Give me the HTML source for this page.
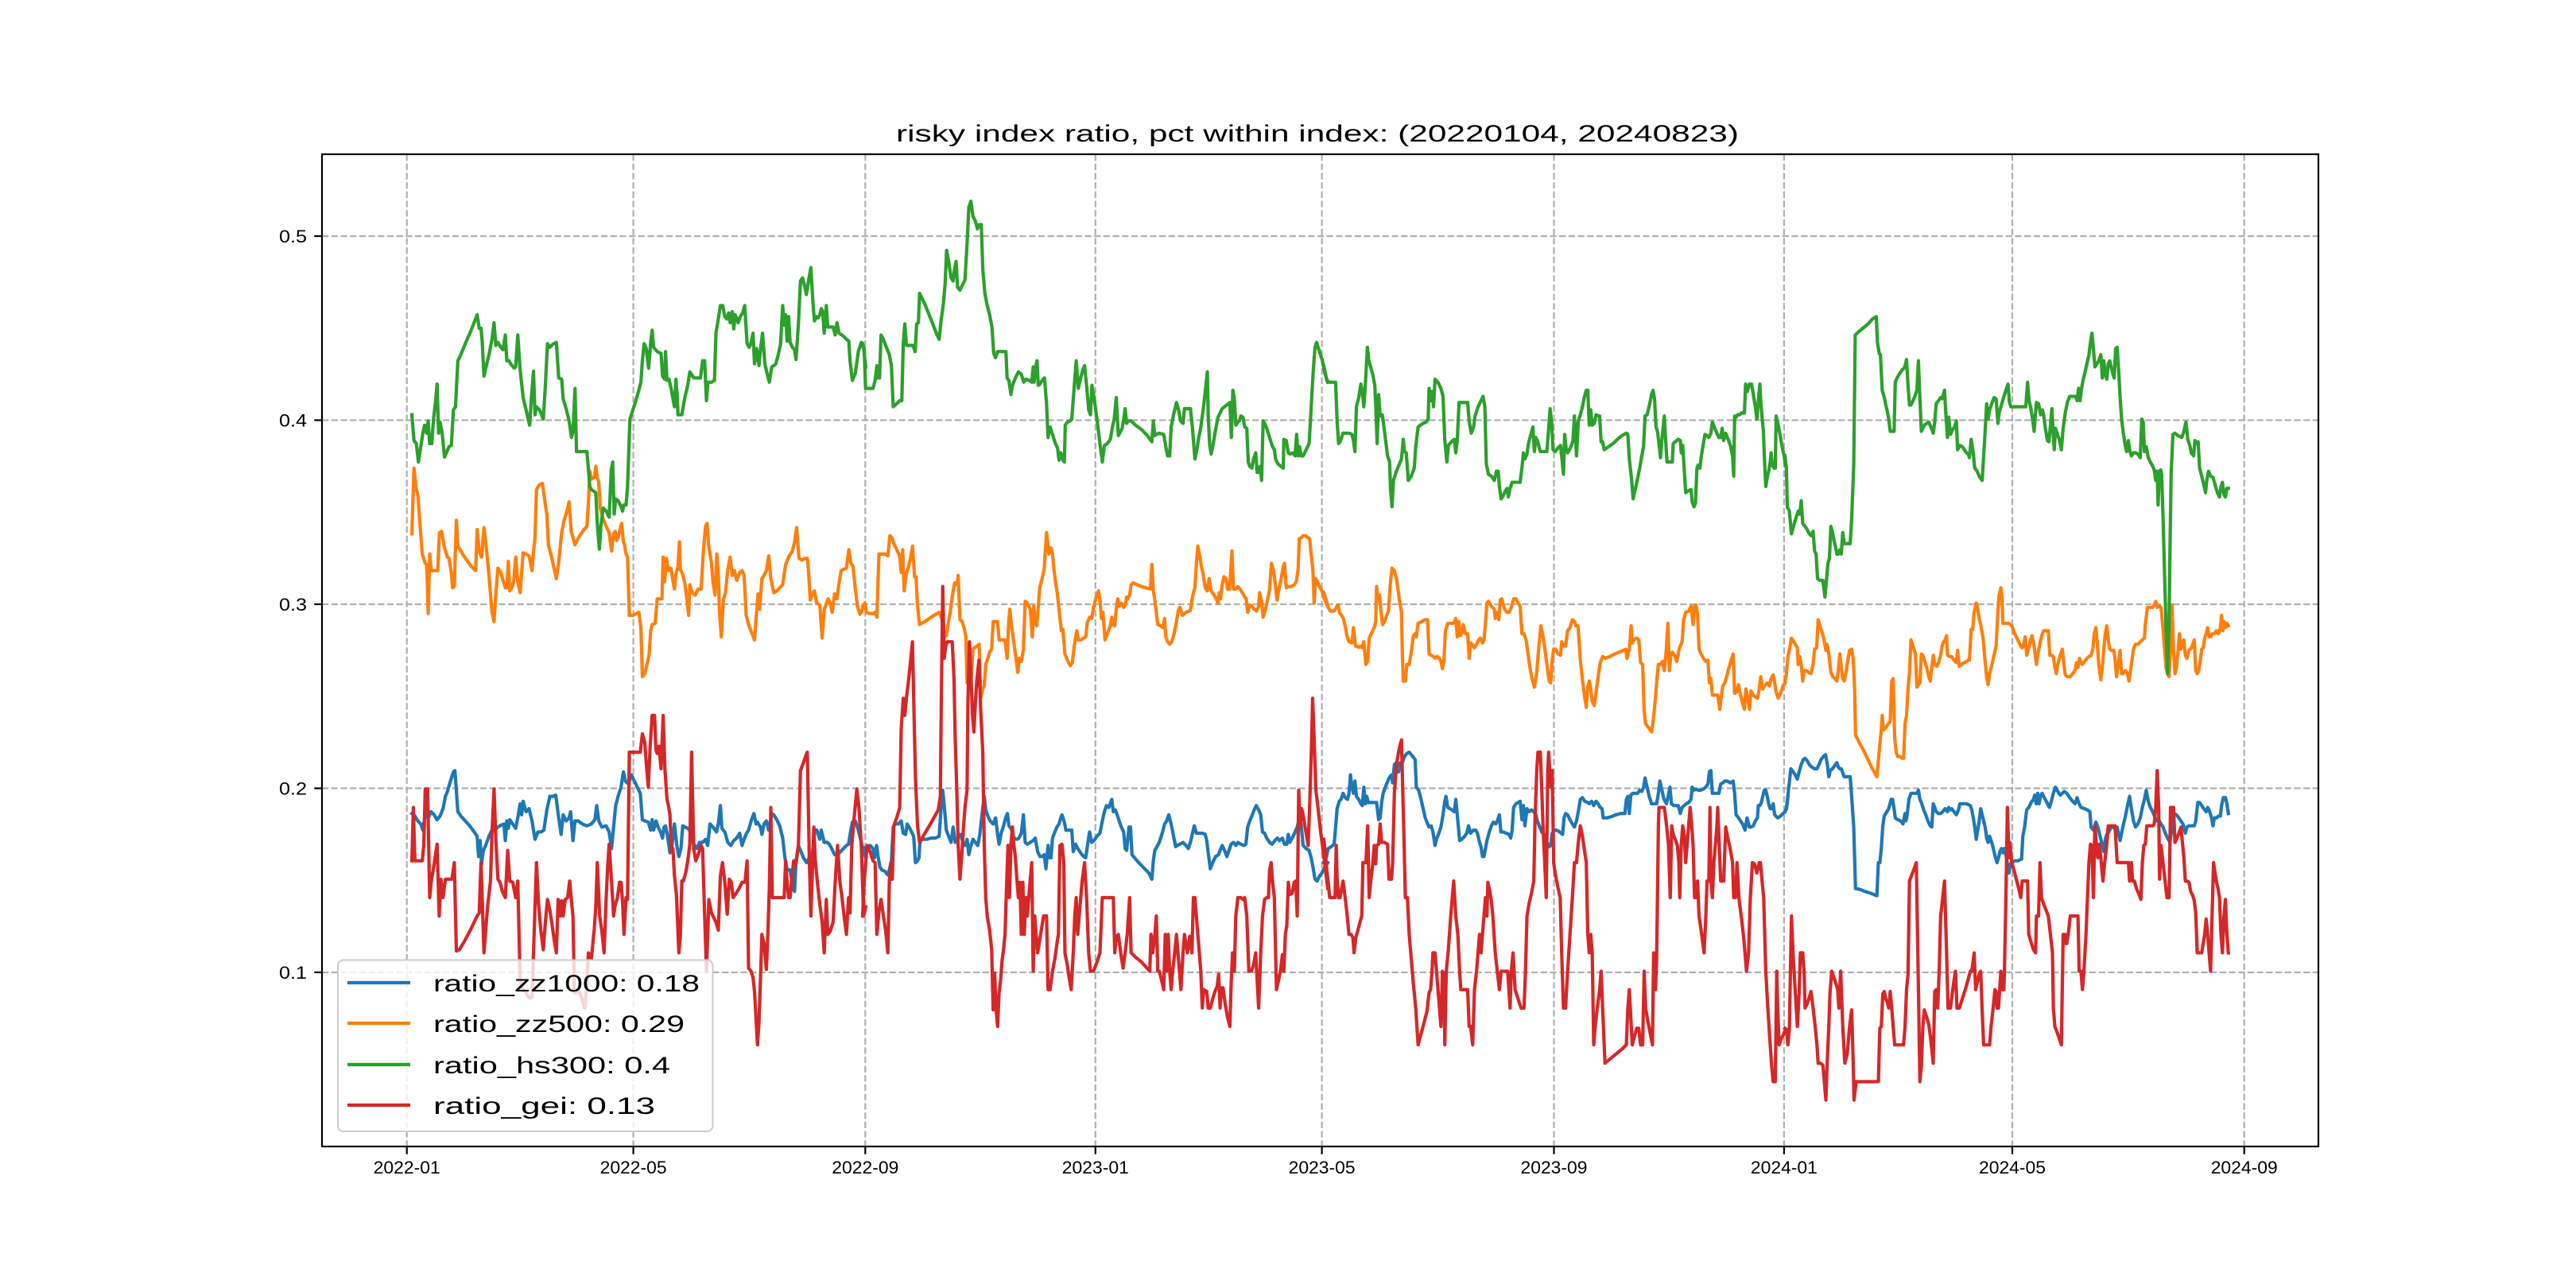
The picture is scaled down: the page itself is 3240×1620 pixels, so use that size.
<!DOCTYPE html>
<html>
<head>
<meta charset="utf-8">
<style>
html,body{margin:0;padding:0;background:#fff;}
svg{display:block;}
text{font-family:"Liberation Sans","WenQuanYi Zen Hei",sans-serif;fill:#000;}
.d{fill:none;stroke-width:4.2;stroke-linejoin:round;stroke-linecap:square;}
.b{stroke:#1f77b4;}.o{stroke:#ff7f0e;}.g{stroke:#2ca02c;}.r{stroke:#d62728;}
</style>
</head>
<body>
<svg width="3240" height="1620" viewBox="0 0 3240 1620" xmlns="http://www.w3.org/2000/svg">
<rect x="0" y="0" width="3240" height="1620" fill="#fff"/>
<text x="1657" y="178" font-size="30" text-anchor="middle" textLength="1060" lengthAdjust="spacingAndGlyphs">risky index ratio, pct within index: (20220104, 20240823)</text>

<!-- grid -->
<g stroke="#b0b0b0" stroke-width="2.2" stroke-dasharray="8.2 3.5" fill="none">
<line x1="405" y1="297" x2="2916" y2="297"/>
<line x1="405" y1="528.5" x2="2916" y2="528.5"/>
<line x1="405" y1="760" x2="2916" y2="760"/>
<line x1="405" y1="991.5" x2="2916" y2="991.5"/>
<line x1="405" y1="1223" x2="2916" y2="1223"/>
<line x1="511.7" y1="194" x2="511.7" y2="1442"/>
<line x1="796.6" y1="194" x2="796.6" y2="1442"/>
<line x1="1088.3" y1="194" x2="1088.3" y2="1442"/>
<line x1="1377.8" y1="194" x2="1377.8" y2="1442"/>
<line x1="1662.6" y1="194" x2="1662.6" y2="1442"/>
<line x1="1954.5" y1="194" x2="1954.5" y2="1442"/>
<line x1="2243.9" y1="194" x2="2243.9" y2="1442"/>
<line x1="2531" y1="194" x2="2531" y2="1442"/>
<line x1="2822.7" y1="194" x2="2822.7" y2="1442"/>
</g>

<!-- BLUE zz1000 -->
<polyline class="d b" vector-effect="non-scaling-stroke" transform="translate(505,230) scale(0.37310,0.77166)" points="35,1028 45,1032 55,1040 65,1045 72,1055 80,1030 90,1035 100,1025 110,1030 120,1038 130,1032 140,1020 148,1000 155,992 165,975 175,960 180,958 190,1025 200,1032 215,1040 230,1048 245,1058 255,1065 260,1098 265,1072 270,1110 275,1090 285,1078 295,1065 305,1055 315,1055 325,1050 335,1047 345,1045 350,1072 355,1040 360,1052 365,1038 375,1045 385,1052 392,1035 400,1012 405,1030 410,1008 420,1025 430,1020 440,1040 450,1070 460,1058 470,1058 480,1055 490,1022 500,1000 510,1000 520,998 530,1035 538,1062 545,1030 555,1040 565,1035 570,1025 578,1072 585,1040 595,1040 610,1045 625,1048 640,1045 652,1038 658,1015 665,1040 675,1050 690,1048 700,1058 708,1085 715,1050 722,1015 730,1000 740,985 748,960 755,975 765,980 775,965 790,980 805,995 812,1038 820,1040 832,1042 840,1055 845,1038 850,1055 858,1040 865,1050 875,1060 880,1068 885,1050 890,1048 897,1065 905,1092 912,1080 920,1045 928,1080 935,1098 942,1085 948,1048 955,1050 965,1052 975,1058 985,1078 995,1085 1005,1075 1015,1075 1025,1070 1032,1080 1040,1045 1050,1050 1062,1058 1068,1045 1075,1015 1080,1052 1090,1058 1100,1075 1110,1080 1120,1072 1130,1068 1140,1060 1148,1080 1155,1070 1163,1060 1170,1055 1180,1038 1188,1028 1195,1045 1200,1042 1210,1050 1215,1062 1222,1045 1230,1040 1238,1055 1248,1028 1255,1030 1265,1038 1275,1048 1285,1068 1292,1098 1300,1120 1310,1120 1320,1150 1325,1155 1330,1105 1338,1080 1345,1088 1355,1100 1365,1108 1375,1100 1385,1095 1393,1055 1400,1055 1410,1070 1415,1055 1425,1075 1435,1075 1442,1078 1450,1085 1460,1095 1470,1095 1480,1090 1490,1085 1500,1080 1507,1078 1513,1060 1520,1042 1530,1040 1540,1055 1550,1075 1558,1090 1565,1100"/>
<polyline class="d b" vector-effect="non-scaling-stroke" transform="translate(1085,230) scale(0.37310,0.77166)" points="0,1090 5,1085 15,1082 25,1080 35,1085 40,1100 47,1080 52,1098 58,1115 65,1120 75,1122 85,1128 90,1120 97,1105 103,1050 110,1045 120,1045 130,1040 137,1060 145,1062 150,1045 157,1050 165,1058 172,1065 178,1108 185,1105 190,1100 193,1075 200,1070 215,1070 230,1068 245,1068 258,1065 265,1015 270,990 275,1015 282,1055 290,1065 298,1075 305,1050 312,1075 318,1072 325,1065 330,1062 338,1075 345,1080 352,1070 358,1095 365,1080 372,1070 380,1075 388,1080 395,1062 400,1040 405,1020 410,1000 415,1022 422,1032 430,1040 440,1045 448,1035 455,1062 460,1078 467,1060 475,1048 482,1035 488,1028 493,1048 500,1052 510,1068 520,1070 527,1068 535,1060 542,1030 548,1075 555,1078 565,1075 575,1072 582,1068 590,1090 598,1098 605,1098 612,1095 618,1118 625,1080 630,1100 635,1100 640,1068 648,1058 655,1050 662,1045 668,1035 672,1030 680,1042 685,1055 695,1055 705,1055 710,1090 718,1078 725,1085 735,1092 745,1098 752,1100 758,1080 765,1058 772,1075 780,1072 790,1065 800,1060 808,1040 815,1025 822,1015 830,1018 840,1005 845,1025 852,1022 858,1030 865,1040 872,1050 880,1058 885,1085 890,1088 898,1050 903,1050 908,1095 925,1105 945,1115 965,1125 975,1135 980,1105 985,1088 992,1082 1000,1075 1010,1060 1018,1045 1025,1040 1032,1030 1040,1045 1047,1062 1055,1082 1060,1080 1070,1078 1080,1075 1090,1080 1098,1085 1105,1075 1112,1060 1118,1048 1125,1060 1135,1060 1145,1060 1155,1062 1160,1072 1165,1092 1172,1118 1180,1108 1190,1098 1200,1095 1205,1088 1212,1080 1220,1088 1228,1098 1235,1088 1242,1078 1250,1075 1258,1080 1265,1075 1275,1078 1285,1080 1292,1078 1298,1050 1305,1040 1312,1032 1320,1022 1327,1015 1335,1022 1342,1030 1348,1058 1355,1060 1362,1068 1372,1075 1380,1078 1390,1072 1398,1068 1405,1072 1415,1068 1422,1078 1430,1078 1435,1062 1440,1075 1448,1068 1458,1058 1465,1050 1470,1040 1478,1045 1485,1080 1495,1085 1505,1088 1512,1100 1518,1115 1525,1135 1532,1138 1540,1130 1548,1125 1558,1115 1568,1108"/>
<polyline class="d b" vector-effect="non-scaling-stroke" transform="translate(1665,230) scale(0.37310,0.77166)" points="0,1108 8,1100 15,1085 25,1082 35,1078 40,1050 45,1020 52,1008 58,1005 65,995 72,1002 80,1005 85,995 90,965 95,985 100,995 105,975 110,1000 118,1005 125,1012 130,1015 135,985 140,1012 145,1000 150,1010 160,1010 170,1010 178,1010 185,1038 190,1035 195,1010 200,995 210,982 220,970 228,965 232,978 238,948 245,945 252,960 258,945 265,945 272,935 280,930 288,928 295,932 300,935 308,940 312,985 320,990 328,1005 335,1020 342,1035 350,1045 355,1050 362,1048 368,1058 375,1080 380,1070 388,1060 395,1050 402,1030 408,1008 412,1000 418,1018 425,1020 432,1022 440,1025 445,1005 452,1040 458,1072 465,1070 475,1065 482,1060 488,1048 495,1060 505,1055 512,1055 518,1060 525,1075 530,1082 535,1098 540,1098 545,1085 550,1072 558,1058 565,1048 572,1042 580,1045 585,1040 592,1030 597,1058 605,1058 615,1060 625,1062 630,1068 635,1055 640,1018 648,1012 655,1010 662,1008 668,1038 673,1015 678,1048 685,1020 692,1025 700,1022 708,1025 715,1030 720,1040 728,1050 735,1058 742,1062 748,1070 755,1078 760,1082 765,1080 770,1060 778,1055 785,1055 795,1058 800,1060 805,1062 810,1035 815,1028 822,1030 830,1038 838,1045 845,1050 852,1040 858,1025 865,1005 872,1002 880,1008 890,1010 895,1012 903,1008 910,1015 918,1008 925,1012 932,1018 938,1020 942,1035 955,1035 970,1033 985,1030 1000,1028 1015,1028 1020,1005 1025,1000 1030,1028 1035,998 1042,995 1050,995 1058,995 1065,990 1072,992 1078,985 1083,970 1090,985 1097,1000 1105,1012 1115,1012 1122,1012 1128,995 1133,975 1140,990 1147,1005 1155,1012 1160,1002 1167,985 1172,1012 1180,1015 1188,1015 1195,1015 1202,1028 1208,1018 1215,1015 1222,1012 1230,1010 1238,1005 1242,985 1248,990 1255,988 1262,990 1270,990 1280,988 1288,985 1295,980 1300,960 1305,958 1310,995 1318,995 1325,995 1332,995 1338,980 1345,978 1352,975 1360,975 1370,978 1380,975 1385,995 1390,1030 1398,1035 1405,1040 1412,1045 1420,1055 1427,1035 1435,1050 1440,1050 1448,1048 1455,1040 1462,1035 1465,1015 1470,1015 1475,1010 1480,1000 1485,990 1490,990 1495,1000 1500,1012 1505,1020 1510,1020 1515,1012 1520,1030 1530,1035 1540,1032 1548,1028 1555,1025 1560,1020 1565,1000"/>
<polyline class="d b" vector-effect="non-scaling-stroke" transform="translate(2245,230) scale(0.37310,0.77166)" points="0,1025 5,1020 12,990 20,955 28,960 35,965 42,972 48,960 55,948 62,940 68,938 75,942 82,948 90,952 100,955 108,955 115,948 122,940 130,935 137,932 143,948 148,968 153,958 160,955 168,950 175,945 180,952 185,955 190,955 195,962 200,968 210,968 220,968 225,1000 232,1050 238,1150 255,1152 270,1155 290,1158 310,1162 315,1108 320,1108 325,1085 330,1048 335,1032 340,1028 350,1020 358,1005 363,1005 368,1020 372,1035 380,1038 390,1040 398,1045 402,1035 405,1028 408,1040 412,1030 418,1005 425,995 435,995 445,995 450,990 455,1005 460,1010 468,1022 475,1030 482,1040 490,1048 495,1050 500,1012 505,1018 510,1025 518,1028 525,1028 532,1025 540,1020 548,1025 552,1018 558,1022 562,1020 570,1025 578,1030 585,1022 590,1012 600,1012 612,1012 625,1015 630,1022 635,1035 640,1050 645,1070 650,1055 655,1040 660,1020 665,1030 670,1040 675,1050 680,1068 685,1075 690,1065 695,1072 700,1080 705,1090 710,1100 715,1108 720,1100 725,1090 730,1085 735,1092 740,1085 745,1095 750,1110 755,1125 760,1110 765,1108 775,1105 785,1105 798,1102 802,1065 808,1050 815,1022 822,1018 830,1010 838,1005 842,998 847,1012 852,995 857,1012 862,998 867,995 872,1000 878,1005 885,1012 892,1018 898,1008 905,995 912,985 920,992 928,998 935,995 942,992 950,995 960,1002 970,1008 978,1012 985,1002 990,1010 998,1018 1010,1020 1020,1022 1028,1025 1032,1050 1040,1055 1048,1042 1055,1050 1060,1060 1065,1070 1070,1080 1075,1090 1080,1070 1085,1062 1092,1058 1100,1050 1108,1050 1115,1055 1120,1050 1125,1062 1130,1072 1135,1060 1140,1048 1148,1032 1155,1015 1162,1000 1168,1020 1175,1040 1182,1050 1190,1045 1198,1035 1205,1018 1212,1005 1218,990 1225,1008 1232,1018 1240,1025 1248,1035 1255,1040 1262,1040 1268,1045 1275,1050 1282,1060 1290,1068 1298,1075 1305,1050 1312,1028 1320,1030 1328,1035 1335,1040 1342,1045 1350,1060 1355,1050 1362,1048 1370,1048 1380,1048 1385,1040 1392,1010 1398,1010 1405,1015 1412,1020 1420,1025 1425,1018 1432,1025 1438,1035 1443,1048 1448,1035 1455,1035 1462,1032 1468,1032 1472,1015 1478,1002 1485,1002 1490,1012 1495,1028"/>

<!-- ORANGE zz500 -->
<polyline class="d o" vector-effect="non-scaling-stroke" transform="translate(505,230) scale(0.37310,0.77166)" points="35,572 42,465 50,500 55,508 62,555 70,605 80,620 85,622 90,702 95,605 100,632 110,632 122,632 128,570 135,568 145,595 155,610 160,612 168,635 172,660 178,658 185,550 190,592 200,600 210,608 220,615 235,625 250,632 255,565 262,600 270,610 278,562 285,590 295,640 305,700 312,715 318,670 325,628 335,635 342,648 350,660 355,660 360,617 365,665 372,660 378,650 385,610 392,650 400,668 410,603 420,605 430,608 440,632 445,600 450,580 455,500 465,492 475,490 485,525 490,540 495,590 505,608 515,630 522,645 530,618 540,570 548,550 555,540 565,520 572,568 580,582 585,590 595,580 605,572 615,565 625,560 630,522 635,470 640,483 650,480 655,462 660,480 665,488 670,530 680,548 690,560 700,570 708,600 715,572 720,568 725,583 730,578 735,568 742,555 748,585 752,590 757,605 762,610 768,705 780,705 800,700 807,725 812,805 820,800 830,780 835,768 840,730 845,720 855,718 862,678 870,678 878,678 882,610 887,650 893,612 900,632 908,628 915,648 920,662 925,638 932,625 937,585 940,630 948,638 955,652 962,678 968,705 972,655 980,668 990,672 1000,662 1010,662 1018,598 1025,560 1030,555 1035,590 1045,620 1050,650 1057,672 1063,605 1068,638 1072,700 1078,740 1085,680 1092,668 1100,630 1108,610 1115,640 1122,632 1130,648 1140,635 1148,632 1155,640 1162,705 1170,720 1182,735 1190,745 1197,700 1202,670 1207,695 1215,645 1222,640 1230,632 1238,608 1245,645 1255,668 1265,665 1275,660 1285,655 1295,622 1305,610 1318,600 1325,585 1332,562 1340,612 1350,615 1360,612 1368,612 1372,632 1378,680 1385,670 1392,665 1400,685 1410,688 1418,742 1425,695 1430,690 1438,678 1445,685 1452,700 1460,670 1468,678 1475,652 1482,632 1490,630 1500,628 1508,598 1515,620 1522,625 1530,662 1537,690 1545,703 1550,700 1558,688 1565,695"/>
<polyline class="d o" vector-effect="non-scaling-stroke" transform="translate(1085,230) scale(0.37310,0.77166)" points="0,690 8,685 12,700 25,702 35,702 42,700 48,708 55,605 65,605 75,605 85,608 92,575 100,580 105,588 115,598 125,608 130,635 135,598 140,665 147,638 155,625 162,610 168,592 175,642 180,642 185,690 192,720 210,715 225,710 240,705 258,700 268,712 275,740 282,738 288,720 295,700 302,675 310,652 318,655 322,640 328,712 335,715 342,725 348,740 352,815 358,775 365,815 372,760 385,755 393,752 398,840 405,825 410,820 415,785 420,778 428,765 435,760 440,715 448,715 455,715 460,745 470,745 480,745 487,775 492,720 496,695 502,722 510,750 517,775 523,798 528,775 535,780 542,760 548,682 555,685 565,695 572,740 577,690 582,718 587,722 592,692 597,660 605,645 612,630 620,570 628,605 635,595 640,605 645,630 650,650 656,668 663,700 670,730 675,728 682,768 692,780 700,787 707,782 712,760 718,740 722,730 727,745 735,745 745,742 752,740 757,718 765,708 772,710 780,688 788,675 795,665 800,680 805,710 810,700 817,745 825,735 835,722 840,708 845,720 850,722 855,695 860,678 865,690 872,685 880,692 885,688 890,675 895,678 900,672 905,655 912,652 925,655 940,658 955,660 970,662 975,622 980,665 985,680 990,700 995,720 1005,722 1012,725 1018,710 1022,740 1028,748 1035,752 1042,748 1050,735 1058,715 1065,695 1070,692 1078,705 1090,700 1100,698 1105,697 1110,680 1115,668 1120,660 1125,622 1130,592 1137,610 1142,625 1148,638 1155,660 1162,665 1168,645 1175,665 1185,672 1192,678 1198,685 1202,668 1207,678 1212,655 1218,642 1225,645 1230,662 1237,662 1245,600 1250,662 1258,662 1265,658 1272,662 1280,668 1288,675 1293,678 1298,700 1305,688 1312,690 1320,695 1328,698 1335,690 1338,668 1345,682 1350,708 1358,695 1365,680 1372,662 1378,620 1385,632 1390,650 1397,680 1402,665 1410,648 1418,625 1422,620 1428,660 1435,658 1445,658 1455,655 1462,650 1468,630 1472,580 1480,578 1485,575 1492,575 1500,578 1507,580 1512,605 1518,632 1522,685 1527,645 1533,650 1540,658 1548,665 1558,680 1568,690"/>
<polyline class="d o" vector-effect="non-scaling-stroke" transform="translate(1665,230) scale(0.37310,0.77166)" points="0,668 8,680 15,692 22,698 35,698 42,692 48,688 53,700 60,705 66,710 72,722 78,738 85,748 95,750 100,725 107,755 112,755 118,757 125,755 130,758 135,748 142,785 148,780 153,742 160,735 167,728 172,722 175,715 178,658 183,682 188,672 193,700 198,720 205,715 212,705 218,698 225,650 230,628 238,632 245,645 250,662 255,680 262,700 265,770 268,812 275,812 280,785 288,785 295,765 302,738 308,735 312,740 318,718 330,715 340,712 350,712 355,768 362,770 370,772 375,775 382,772 390,775 395,780 400,792 405,780 410,730 418,718 425,718 435,718 442,715 445,710 450,740 455,715 460,738 465,735 470,720 478,735 485,735 490,775 495,750 500,752 508,758 515,752 522,745 528,742 535,750 540,745 545,718 550,685 555,682 565,690 575,695 578,710 585,700 590,712 595,680 600,678 605,688 610,695 617,700 625,700 632,692 640,678 648,678 655,685 662,690 668,735 675,735 682,745 688,765 695,790 702,808 710,822 718,798 725,755 732,722 740,742 748,770 755,795 760,812 765,815 770,778 775,760 782,760 790,768 798,770 802,748 808,755 815,755 822,730 830,725 838,712 845,715 850,722 857,722 865,778 872,810 880,840 885,855 890,822 895,812 900,825 905,845 912,852 918,830 925,805 932,782 940,772 950,775 965,772 980,768 995,765 1010,762 1018,760 1022,775 1030,760 1036,722 1040,750 1045,745 1055,742 1062,745 1068,782 1075,785 1080,860 1085,882 1095,888 1105,895 1110,880 1118,840 1122,815 1128,785 1135,785 1142,780 1148,795 1155,760 1160,718 1165,795 1170,770 1175,765 1182,770 1190,780 1198,760 1202,755 1208,748 1213,712 1220,700 1230,698 1238,690 1245,720 1250,690 1255,688 1260,702 1265,760 1272,768 1280,775 1288,780 1295,778 1300,815 1305,808 1310,835 1318,835 1328,835 1335,858 1340,838 1345,820 1352,815 1358,805 1365,792 1372,780 1380,768 1385,832 1392,830 1398,818 1405,835 1412,848 1418,858 1423,825 1428,838 1435,858 1440,828 1448,835 1455,838 1462,840 1468,825 1473,805 1480,825 1485,820 1490,818 1495,815 1502,820 1508,808 1515,802 1520,815 1525,830 1532,840 1540,832 1548,820 1555,815"/>
<polyline class="d o" vector-effect="non-scaling-stroke" transform="translate(2245,230) scale(0.37310,0.77166)" points="0,815 5,800 10,772 15,762 22,742 30,748 38,755 42,758 45,785 50,772 55,785 60,812 65,795 72,795 80,798 88,800 95,785 100,760 107,758 112,712 118,722 125,732 132,745 138,762 142,752 148,768 155,798 162,805 168,808 175,812 180,795 185,768 190,790 195,808 200,812 207,795 212,778 218,762 225,760 230,775 235,822 238,900 250,912 265,925 280,940 295,955 310,968 315,942 320,915 325,892 328,868 332,892 340,888 348,882 355,878 360,812 365,808 370,905 375,928 380,935 388,935 395,938 400,938 405,882 410,868 415,825 420,798 425,745 432,755 440,768 445,822 450,818 455,815 460,768 465,770 470,778 478,790 485,805 490,812 495,790 500,770 505,785 512,788 518,782 525,770 530,755 535,748 540,745 545,738 548,770 555,772 562,772 570,778 578,782 582,762 588,788 595,785 605,782 612,780 618,778 622,778 628,728 633,728 638,700 645,685 650,695 655,710 660,720 668,742 675,780 680,805 685,818 690,800 698,785 705,770 712,755 718,700 722,672 728,660 732,678 735,718 745,718 755,718 765,722 772,732 780,740 788,748 795,755 800,758 805,752 810,740 815,770 822,758 828,745 833,738 840,755 848,785 852,770 858,755 862,745 868,735 872,730 880,730 888,730 893,770 900,770 905,772 910,790 915,800 920,785 927,772 935,760 940,782 945,802 952,805 962,805 970,800 978,795 983,782 988,790 993,775 998,782 1003,785 1010,780 1018,775 1025,772 1032,770 1038,760 1043,735 1048,725 1053,750 1058,785 1065,810 1070,790 1075,760 1080,735 1085,722 1090,745 1095,760 1100,762 1108,762 1112,772 1118,805 1125,780 1130,762 1135,800 1140,800 1148,795 1155,800 1160,812 1165,795 1170,778 1175,760 1182,752 1190,752 1198,748 1205,745 1212,742 1215,720 1222,692 1230,692 1240,692 1245,688 1250,682 1255,692 1262,690 1268,692 1275,730 1280,760 1285,790 1290,800 1295,805 1300,760 1305,688 1310,760 1315,800 1320,790 1325,765 1330,735 1335,760 1340,752 1345,745 1350,770 1355,775 1362,762 1370,758 1375,752 1380,745 1385,795 1390,800 1395,795 1400,780 1405,760 1410,758 1415,742 1420,735 1425,725 1430,740 1435,740 1440,735 1448,735 1455,730 1462,735 1468,725 1472,705 1476,730 1480,715 1485,725 1490,718 1495,722"/>

<!-- GREEN hs300 -->
<polyline class="d g" vector-effect="non-scaling-stroke" transform="translate(505,230) scale(0.37310,0.77166)" points="35,378 42,420 50,425 57,455 65,430 72,408 78,395 85,408 90,388 95,425 102,425 108,385 115,355 120,328 125,408 130,390 137,408 145,447 160,430 168,428 175,370 182,365 190,290 200,280 215,262 235,240 255,215 262,237 268,237 272,258 278,315 285,300 295,280 305,255 312,228 318,265 325,260 335,268 342,272 350,248 355,290 362,290 368,295 380,302 385,300 392,248 400,305 410,350 420,370 432,395 438,350 445,307 450,378 455,365 465,370 478,385 485,330 492,262 500,268 510,263 522,260 530,318 540,320 545,352 555,368 565,388 573,415 578,405 585,335 590,438 610,438 625,438 635,495 640,500 655,505 660,555 667,597 672,560 680,530 690,535 700,545 707,468 712,455 717,540 722,515 730,518 740,527 745,535 750,525 757,525 762,495 770,385 790,355 800,338 807,325 812,290 818,262 825,270 833,302 840,260 845,240 850,268 862,275 875,278 880,315 887,320 890,275 895,322 902,320 910,338 920,365 925,320 930,350 932,378 945,378 955,350 965,330 972,308 985,318 1000,318 1008,318 1015,290 1022,290 1028,355 1033,325 1045,325 1055,322 1060,245 1068,222 1075,200 1083,200 1090,218 1097,222 1103,212 1108,228 1115,210 1120,238 1125,215 1135,228 1142,218 1150,212 1157,200 1165,262 1172,268 1178,262 1185,245 1190,295 1197,270 1205,298 1210,272 1217,245 1225,295 1232,310 1240,325 1248,300 1255,298 1262,295 1270,280 1278,262 1285,200 1290,232 1295,215 1300,258 1305,218 1310,260 1318,268 1325,272 1330,288 1338,230 1345,160 1352,155 1360,170 1365,182 1372,160 1380,138 1387,195 1392,225 1400,218 1405,220 1410,215 1415,205 1420,210 1425,245 1432,200 1437,235 1445,235 1455,235 1462,248 1468,228 1475,245 1490,250 1500,255 1508,258 1512,290 1520,322 1530,310 1540,275 1550,260 1558,270 1565,300"/>
<polyline class="d g" vector-effect="non-scaling-stroke" transform="translate(1085,230) scale(0.37310,0.77166)" points="0,262 5,270 10,335 20,335 35,335 42,322 48,298 52,318 57,318 62,248 70,255 80,268 90,280 97,298 103,365 115,360 125,355 132,355 137,262 142,230 148,265 160,265 170,265 177,275 182,230 188,228 192,180 210,198 230,222 250,247 258,255 265,222 272,198 278,165 283,110 290,128 298,155 305,160 310,140 315,128 320,170 328,175 335,168 345,158 352,100 358,40 365,30 372,55 380,62 387,75 393,68 400,68 405,140 412,180 420,200 428,215 436,235 442,278 448,285 455,275 470,275 483,275 487,318 493,322 500,345 505,330 515,318 525,308 535,312 543,325 550,320 562,322 570,325 575,300 578,325 583,300 588,290 592,330 598,328 605,322 613,318 620,360 625,415 632,398 640,410 650,425 657,432 662,452 668,440 675,452 680,455 683,395 690,390 700,388 705,385 712,340 720,290 727,335 735,318 742,305 748,298 755,330 762,370 768,378 773,330 780,350 790,385 800,425 808,455 815,428 825,425 835,418 842,398 848,385 855,350 862,412 875,400 880,385 885,368 890,392 895,388 905,388 920,395 940,402 960,412 975,422 980,388 985,412 990,410 1000,408 1015,410 1022,430 1028,445 1035,445 1040,398 1048,378 1058,358 1065,370 1072,388 1080,392 1085,368 1095,368 1105,368 1112,400 1120,450 1125,440 1132,418 1140,398 1148,370 1155,340 1162,308 1165,380 1170,428 1175,442 1182,425 1190,402 1198,382 1205,375 1212,368 1225,363 1238,358 1243,415 1248,338 1253,350 1258,395 1265,390 1270,388 1275,380 1282,382 1288,398 1295,400 1300,455 1305,462 1312,465 1318,450 1325,440 1330,472 1335,472 1340,462 1345,485 1350,388 1355,392 1362,400 1370,412 1380,428 1388,435 1392,450 1400,458 1410,462 1418,465 1420,418 1428,420 1435,440 1442,442 1450,440 1458,445 1463,410 1468,445 1473,430 1478,445 1485,445 1495,435 1505,425 1510,385 1515,340 1520,300 1525,268 1530,260 1540,275 1550,290 1558,310 1568,325"/>
<polyline class="d g" vector-effect="non-scaling-stroke" transform="translate(1665,230) scale(0.37310,0.77166)" points="0,298 10,322 20,325 30,325 40,325 45,390 50,425 55,422 65,408 75,408 85,408 95,410 100,420 105,438 110,365 118,350 125,328 130,340 135,365 140,330 147,268 152,290 158,300 165,312 172,330 175,360 180,425 185,345 190,380 197,378 202,395 208,418 215,445 222,455 225,500 230,528 235,485 245,470 255,458 262,450 268,418 272,438 278,440 285,485 295,478 305,465 310,430 318,398 325,395 335,392 345,390 352,385 355,335 360,355 365,340 370,365 375,320 385,325 395,335 402,348 408,420 415,455 420,428 430,422 440,418 445,440 450,420 456,358 465,358 475,358 485,358 490,388 497,408 505,398 510,380 520,365 530,355 537,348 543,365 548,458 555,475 565,478 575,485 582,470 588,470 592,495 598,515 605,510 612,502 618,498 622,512 628,498 635,488 645,488 655,488 662,488 668,465 673,440 678,450 685,442 690,425 697,412 705,398 710,438 715,415 720,420 730,438 740,438 752,438 757,408 763,368 768,390 773,435 780,438 790,432 798,428 803,450 808,475 812,410 818,438 822,440 828,435 835,428 840,420 845,380 852,445 858,388 865,378 872,365 878,350 885,338 890,338 895,395 900,370 905,395 912,392 918,378 925,380 930,380 935,422 940,422 945,435 960,430 975,425 990,418 1005,412 1020,408 1025,410 1030,450 1037,480 1043,515 1050,500 1058,482 1065,465 1072,445 1078,430 1083,380 1090,378 1098,362 1105,345 1110,338 1115,352 1120,398 1125,405 1130,425 1135,448 1140,418 1148,380 1152,415 1157,455 1165,455 1175,455 1178,425 1185,422 1195,418 1202,420 1205,440 1210,428 1215,465 1220,505 1228,502 1238,500 1242,520 1248,528 1253,522 1258,465 1262,460 1268,465 1272,448 1278,430 1285,410 1292,412 1298,415 1305,408 1310,390 1318,400 1325,408 1332,415 1338,415 1343,400 1348,420 1355,408 1360,415 1365,420 1372,430 1378,445 1382,478 1385,380 1390,382 1395,378 1402,378 1408,375 1418,375 1422,328 1428,340 1435,328 1442,328 1448,345 1455,365 1460,385 1465,355 1470,328 1473,355 1478,385 1482,405 1486,455 1490,495 1495,480 1500,470 1505,455 1508,440 1512,460 1518,465 1522,465 1525,380 1530,390 1538,410 1545,430 1552,445 1556,460"/>
<polyline class="d g" vector-effect="non-scaling-stroke" transform="translate(2245,230) scale(0.37310,0.77166)" points="0,445 5,465 8,528 15,535 22,572 30,558 38,545 45,535 50,540 55,518 60,555 68,560 75,565 82,572 88,575 95,568 100,600 105,605 110,645 118,648 128,648 135,675 140,648 145,620 150,612 155,560 160,568 165,582 170,592 175,605 180,605 185,598 190,605 195,570 200,588 210,588 220,588 225,548 232,460 237,248 250,242 265,236 280,230 295,222 308,218 312,260 318,278 322,280 328,338 335,350 340,362 345,372 350,385 355,405 362,405 368,405 372,325 378,318 385,312 395,305 402,302 405,298 410,288 415,330 420,362 425,362 432,355 438,348 445,338 450,290 455,350 460,405 465,400 470,395 478,392 485,390 492,398 500,408 505,390 510,360 518,355 525,350 530,352 538,338 543,380 548,415 552,382 558,410 565,402 572,398 578,388 582,435 590,428 598,430 605,435 612,440 618,442 622,448 628,418 635,440 640,465 648,470 655,478 660,482 665,485 670,445 675,405 680,360 685,385 690,370 697,360 705,350 712,352 718,392 722,375 730,362 737,350 745,338 752,328 757,358 762,365 772,365 785,365 800,365 812,365 818,325 823,355 828,365 835,385 840,405 848,358 855,360 862,378 868,370 872,378 878,400 885,420 890,422 896,390 900,368 905,415 908,435 912,400 920,412 925,418 932,435 938,400 945,375 952,358 960,348 970,348 980,348 985,355 990,335 995,355 1000,335 1005,322 1012,308 1018,295 1025,280 1030,260 1035,245 1040,270 1045,300 1052,295 1058,290 1065,280 1070,318 1075,290 1080,312 1085,320 1090,295 1095,290 1100,300 1105,310 1110,318 1115,270 1120,268 1125,305 1130,350 1135,385 1140,405 1148,430 1152,438 1158,420 1162,435 1168,445 1175,440 1182,440 1190,442 1198,448 1203,385 1208,390 1212,438 1218,430 1225,448 1232,455 1240,462 1245,468 1250,485 1255,470 1258,525 1262,470 1267,468 1270,475 1275,550 1280,640 1285,730 1290,800 1295,720 1298,600 1302,475 1308,410 1315,408 1325,412 1338,415 1345,405 1352,390 1358,418 1365,428 1370,440 1378,445 1382,420 1388,425 1393,422 1398,465 1405,478 1410,488 1418,505 1422,485 1428,470 1435,478 1443,480 1450,492 1458,505 1465,512 1470,495 1475,488 1480,508 1485,512 1490,498 1495,498"/>

<!-- RED gei -->
<polyline class="d r" vector-effect="non-scaling-stroke" transform="translate(505,230) scale(0.37310,0.77166)" points="35,1105 40,1018 45,1105 50,1105 60,1105 70,1105 75,1080 80,988 88,988 95,1165 100,1140 110,1110 120,1078 127,1195 133,1135 140,1165 148,1135 160,1135 170,1135 178,1108 185,1252 195,1250 210,1238 230,1220 245,1205 255,1195 262,1190 268,1108 278,1255 290,1180 300,1138 305,1060 312,988 318,1070 325,1135 332,1140 340,1155 350,1165 358,1088 365,1138 375,1140 385,1165 392,1138 400,1300 410,1315 420,1320 430,1328 440,1328 455,1108 462,1175 470,1220 478,1250 485,1205 492,1168 500,1185 505,1200 515,1235 522,1255 528,1168 535,1195 540,1170 545,1195 552,1168 560,1165 567,1138 572,1165 578,1195 583,1320 590,1320 600,1318 608,1330 618,1345 625,1305 630,1255 640,1265 650,1215 655,1180 660,1108 668,1195 675,1218 683,1255 690,1165 695,1115 700,1078 708,1138 715,1195 720,1178 728,1165 735,1140 740,1140 745,1170 750,1225 757,1165 762,1168 768,928 780,928 795,928 805,928 812,898 820,912 825,945 832,985 838,920 845,868 853,868 858,925 862,930 868,918 875,955 882,868 888,955 895,1005 900,1015 905,1030 910,1090 915,1085 920,1128 927,1162 935,1255 940,1228 945,1138 950,1138 955,1130 960,1120 965,1105 972,1078 978,928 985,1085 992,1105 1000,1095 1010,1080 1015,1085 1022,1195 1028,1285 1032,1228 1036,1168 1045,1190 1055,1200 1060,1205 1068,1218 1075,1130 1082,1108 1090,1140 1098,1192 1105,1135 1112,1140 1118,1165 1128,1158 1138,1150 1148,1140 1158,1140 1165,1105 1170,1280 1178,1285 1185,1295 1190,1318 1200,1405 1205,1370 1212,1270 1215,1225 1222,1240 1230,1282 1235,1225 1240,1150 1245,1018 1250,1165 1260,1165 1275,1165 1290,1165 1295,1105 1300,1140 1305,1165 1310,1165 1315,1140 1322,1105 1330,1110 1338,1080 1345,958 1355,945 1362,935 1368,928 1375,1108 1380,1195 1390,1050 1395,1105 1402,1140 1410,1175 1418,1205 1425,1255 1432,1168 1437,1225 1445,1220 1455,1205 1462,1140 1470,1080 1478,1140 1485,1165 1492,1195 1500,1225 1507,1165 1512,1190 1518,1080 1525,1040 1535,988 1542,1018 1550,1080 1558,1195 1565,1180"/>
<polyline class="d r" vector-effect="non-scaling-stroke" transform="translate(1085,230) scale(0.37310,0.77166)" points="0,1195 5,1140 15,1080 25,1090 35,1105 42,1108 48,1225 55,1188 62,1168 70,1195 78,1220 85,1255 90,1138 95,1108 100,1135 105,1048 115,1035 125,1018 130,890 137,840 142,868 148,838 155,810 162,778 168,748 172,838 178,968 185,1048 192,1075 210,1060 225,1048 240,1035 255,1022 262,1000 265,850 270,658 275,775 280,755 285,748 295,748 302,748 308,808 312,905 318,1000 322,1078 328,1135 335,1090 340,1050 345,1018 352,990 355,845 360,748 365,800 370,865 375,895 380,848 385,810 392,778 398,860 405,928 410,1080 415,1165 420,1195 428,1218 435,1250 440,1348 445,1288 450,1348 455,1375 460,1320 465,1300 470,1268 475,1250 480,1225 485,1150 490,1080 495,1165 500,1078 505,1050 510,1080 515,1100 520,1135 525,1165 530,1140 535,1225 540,1140 545,1225 550,1165 555,1195 560,1165 565,1135 570,1108 575,1285 580,1195 585,1225 590,1255 600,1225 610,1195 620,1195 625,1315 632,1315 640,1285 648,1265 655,1240 660,1225 665,1080 672,1078 678,1108 682,1255 690,1275 697,1298 703,1315 710,1255 715,1195 720,1165 725,1225 730,1195 740,1138 748,1108 755,1165 762,1255 768,1285 778,1285 790,1270 800,1255 808,1165 820,1165 830,1165 845,1165 850,1255 855,1230 862,1225 870,1255 878,1280 885,1255 892,1225 900,1165 905,1255 920,1262 940,1270 955,1278 968,1285 972,1225 978,1255 985,1225 990,1195 995,1285 1000,1285 1008,1300 1015,1315 1020,1225 1025,1285 1030,1225 1035,1285 1040,1315 1045,1285 1052,1255 1058,1225 1063,1255 1068,1285 1073,1315 1080,1255 1085,1225 1095,1255 1103,1228 1110,1255 1115,1165 1120,1165 1125,1195 1130,1225 1135,1255 1140,1285 1145,1345 1150,1315 1160,1318 1165,1345 1172,1345 1180,1330 1190,1315 1195,1310 1200,1290 1205,1345 1210,1312 1215,1312 1222,1338 1230,1360 1238,1375 1242,1310 1247,1255 1253,1285 1258,1195 1265,1165 1275,1165 1282,1168 1288,1165 1295,1195 1302,1285 1310,1285 1318,1275 1325,1255 1330,1300 1335,1345 1342,1255 1348,1195 1355,1168 1362,1165 1368,1165 1372,1120 1377,1108 1382,1140 1388,1165 1395,1315 1402,1300 1410,1280 1415,1258 1420,1285 1425,1225 1430,1210 1435,1140 1440,1160 1448,1158 1455,1140 1460,1138 1465,1195 1470,990 1475,1050 1480,1020 1485,1030 1490,1045 1495,1060 1502,1080 1508,1000 1513,920 1517,840 1522,905 1528,990 1535,1018 1542,1050 1550,1080 1558,1110 1568,1150"/>
<polyline class="d r" vector-effect="non-scaling-stroke" transform="translate(1665,230) scale(0.37310,0.77166)" points="0,1070 5,1090 10,1120 15,1140 20,1165 30,1165 38,1165 42,1080 45,1135 50,1165 55,1165 60,1150 65,1138 72,1165 78,1190 85,1225 92,1225 98,1230 102,1255 108,1230 115,1218 122,1205 128,1195 132,1108 138,1108 142,1108 148,1048 153,1165 158,1140 165,1110 170,1080 175,1110 178,1080 185,1078 190,1045 195,1075 205,1075 215,1078 220,1135 228,1135 232,1110 238,995 245,948 252,928 258,915 262,908 265,968 270,1060 275,1165 282,1165 288,1225 295,1265 302,1305 310,1345 318,1405 325,1392 332,1380 340,1365 348,1350 355,1320 360,1315 365,1285 368,1255 375,1255 380,1285 385,1315 390,1345 395,1375 400,1285 405,1290 408,1405 413,1285 420,1250 428,1195 433,1165 438,1138 445,1195 452,1225 458,1285 462,1315 470,1315 478,1315 485,1315 490,1375 495,1375 502,1405 508,1315 515,1285 520,1255 525,1225 530,1255 535,1225 540,1195 545,1165 550,1195 553,1140 558,1150 565,1170 570,1195 578,1255 585,1285 592,1315 598,1285 605,1285 612,1285 620,1285 628,1345 632,1285 638,1255 645,1315 655,1330 665,1345 675,1345 680,1285 685,1195 692,1175 700,1158 708,1138 712,1040 718,958 722,928 730,928 735,990 740,1060 745,1108 750,1165 755,960 758,928 762,960 765,985 770,958 775,1108 780,1125 790,1150 797,1165 802,1255 808,1345 815,1345 822,1285 830,1225 838,1165 845,1108 852,1108 858,1075 865,1048 872,1065 878,1085 885,1108 890,1225 895,1255 900,1225 905,1255 910,1405 915,1375 922,1345 930,1315 935,1285 940,1345 948,1435 965,1428 985,1420 1005,1412 1020,1405 1025,1345 1030,1315 1035,1360 1040,1405 1048,1390 1055,1378 1062,1378 1068,1405 1075,1405 1080,1285 1085,1345 1092,1365 1100,1385 1108,1405 1112,1255 1118,1315 1122,1270 1128,1048 1130,1018 1138,1018 1148,1018 1155,1045 1162,1078 1168,1165 1173,1048 1178,1062 1185,1070 1192,1080 1197,1108 1200,1165 1205,1080 1210,1048 1215,1062 1220,1108 1225,1078 1230,1048 1235,1018 1240,1045 1245,1080 1250,1165 1255,1165 1260,1138 1265,1195 1272,1218 1278,1240 1282,1255 1288,1195 1292,1138 1298,1138 1302,1018 1305,1138 1310,1165 1315,1108 1320,1080 1325,1050 1328,1018 1333,1078 1338,1138 1348,1138 1355,1050 1362,1068 1370,1085 1378,1108 1382,1165 1388,1165 1393,1108 1400,1168 1408,1198 1415,1228 1420,1255 1425,1285 1432,1255 1438,1165 1445,1108 1452,1110 1460,1125 1468,1108 1472,1108 1478,1140 1483,1165 1490,1285 1497,1345 1505,1405 1510,1440 1515,1465 1522,1465 1527,1285 1530,1345 1535,1405 1542,1395 1550,1388 1556,1380"/>
<polyline class="d r" vector-effect="non-scaling-stroke" transform="translate(2245,230) scale(0.37310,0.77166)" points="0,1378 5,1380 10,1405 15,1380 22,1195 28,1260 35,1320 42,1375 48,1320 52,1255 60,1255 65,1290 68,1345 75,1338 82,1328 88,1318 95,1345 102,1375 108,1405 112,1435 120,1435 128,1438 132,1460 138,1495 142,1440 148,1375 152,1320 158,1285 165,1295 172,1305 178,1315 182,1345 188,1285 195,1375 202,1435 210,1420 218,1375 225,1348 230,1430 233,1495 240,1465 255,1465 270,1465 285,1465 300,1465 315,1465 320,1378 325,1375 330,1322 335,1318 340,1330 345,1335 350,1345 355,1318 360,1345 365,1375 370,1405 380,1405 392,1405 400,1405 405,1375 410,1315 415,1290 420,1138 430,1125 438,1115 443,1108 450,1310 455,1465 460,1440 465,1375 470,1348 478,1360 485,1372 490,1390 495,1412 500,1435 505,1318 510,1315 515,1345 520,1285 525,1195 532,1165 538,1138 545,1255 550,1345 558,1345 565,1318 570,1300 575,1285 580,1345 588,1345 598,1330 608,1315 618,1298 625,1285 630,1285 638,1255 643,1315 650,1300 655,1290 660,1285 665,1350 670,1405 680,1405 690,1405 695,1375 702,1345 708,1315 712,1318 715,1345 720,1345 728,1285 732,1315 738,1315 740,1285 745,1165 750,1018 755,1100 758,1075 765,1108 772,1120 780,1135 788,1150 795,1165 800,1138 808,1138 818,1138 822,1225 830,1238 838,1250 845,1255 848,1195 855,1195 860,1108 865,1165 872,1175 880,1185 888,1195 895,1225 902,1255 905,1345 910,1375 918,1385 925,1395 932,1405 938,1225 942,1240 945,1225 950,1240 955,1225 962,1195 970,1195 980,1195 988,1195 992,1285 998,1285 1003,1315 1008,1285 1015,1225 1020,1165 1025,1108 1030,1078 1035,1080 1040,1165 1045,1048 1050,1078 1055,1100 1060,1078 1065,1100 1072,1138 1078,1108 1085,1078 1090,1048 1098,1048 1108,1048 1113,1048 1120,1108 1128,1108 1135,1108 1142,1108 1150,1108 1158,1108 1162,1138 1168,1108 1172,1138 1178,1138 1185,1150 1192,1158 1200,1168 1205,1108 1210,1080 1215,1078 1220,1048 1225,1048 1230,1048 1240,1048 1245,1045 1250,1018 1255,958 1260,1018 1263,1135 1268,1080 1275,1110 1282,1140 1288,1165 1295,1165 1300,1018 1305,1018 1310,1018 1315,1075 1320,1070 1328,1060 1335,1050 1340,1075 1345,1100 1350,1138 1355,1138 1362,1140 1368,1155 1375,1162 1380,1170 1385,1190 1390,1255 1398,1255 1405,1255 1410,1240 1415,1225 1420,1200 1425,1225 1430,1255 1435,1285 1440,1195 1445,1108 1450,1125 1455,1140 1460,1150 1465,1165 1470,1225 1475,1255 1480,1195 1485,1168 1490,1225 1495,1255"/>

<!-- spines -->
<rect x="405" y="194" width="2511" height="1248" fill="none" stroke="#000" stroke-width="2.2"/>

<!-- y ticks -->
<g stroke="#000" stroke-width="2.2">
<line x1="395.3" y1="297" x2="405" y2="297"/>
<line x1="395.3" y1="528.5" x2="405" y2="528.5"/>
<line x1="395.3" y1="760" x2="405" y2="760"/>
<line x1="395.3" y1="991.5" x2="405" y2="991.5"/>
<line x1="395.3" y1="1223" x2="405" y2="1223"/>
</g>
<g font-size="22.5" text-anchor="end">
<text x="386" y="305" textLength="35" lengthAdjust="spacingAndGlyphs">0.5</text>
<text x="386" y="536.5" textLength="35" lengthAdjust="spacingAndGlyphs">0.4</text>
<text x="386" y="768" textLength="35" lengthAdjust="spacingAndGlyphs">0.3</text>
<text x="386" y="999.5" textLength="35" lengthAdjust="spacingAndGlyphs">0.2</text>
<text x="386" y="1231" textLength="35" lengthAdjust="spacingAndGlyphs">0.1</text>
</g>

<!-- x ticks -->
<g stroke="#000" stroke-width="2.2">
<line x1="511.7" y1="1442" x2="511.7" y2="1451.7"/>
<line x1="796.6" y1="1442" x2="796.6" y2="1451.7"/>
<line x1="1088.3" y1="1442" x2="1088.3" y2="1451.7"/>
<line x1="1377.8" y1="1442" x2="1377.8" y2="1451.7"/>
<line x1="1662.6" y1="1442" x2="1662.6" y2="1451.7"/>
<line x1="1954.5" y1="1442" x2="1954.5" y2="1451.7"/>
<line x1="2243.9" y1="1442" x2="2243.9" y2="1451.7"/>
<line x1="2531" y1="1442" x2="2531" y2="1451.7"/>
<line x1="2822.7" y1="1442" x2="2822.7" y2="1451.7"/>
</g>
<g font-size="22.5" text-anchor="middle">
<text x="511.7" y="1476" textLength="84" lengthAdjust="spacingAndGlyphs">2022-01</text>
<text x="796.6" y="1476" textLength="84" lengthAdjust="spacingAndGlyphs">2022-05</text>
<text x="1088.3" y="1476" textLength="84" lengthAdjust="spacingAndGlyphs">2022-09</text>
<text x="1377.8" y="1476" textLength="84" lengthAdjust="spacingAndGlyphs">2023-01</text>
<text x="1662.6" y="1476" textLength="84" lengthAdjust="spacingAndGlyphs">2023-05</text>
<text x="1954.5" y="1476" textLength="84" lengthAdjust="spacingAndGlyphs">2023-09</text>
<text x="2243.9" y="1476" textLength="84" lengthAdjust="spacingAndGlyphs">2024-01</text>
<text x="2531" y="1476" textLength="84" lengthAdjust="spacingAndGlyphs">2024-05</text>
<text x="2822.7" y="1476" textLength="84" lengthAdjust="spacingAndGlyphs">2024-09</text>
</g>

<!-- legend -->
<rect x="425" y="1207.5" width="471.5" height="215.5" rx="7" ry="7" fill="#fff" fill-opacity="0.8" stroke="#cccccc" stroke-width="2"/>
<g stroke-width="4.2" stroke-linecap="butt">
<line x1="437" y1="1236" x2="516" y2="1236" stroke="#1f77b4"/>
<line x1="437" y1="1287" x2="516" y2="1287" stroke="#ff7f0e"/>
<line x1="437" y1="1339" x2="516" y2="1339" stroke="#2ca02c"/>
<line x1="437" y1="1390" x2="516" y2="1390" stroke="#d62728"/>
</g>
<g font-size="30">
<text x="545" y="1247" textLength="335" lengthAdjust="spacingAndGlyphs">ratio_zz1000: 0.18</text>
<text x="545" y="1298" textLength="316" lengthAdjust="spacingAndGlyphs">ratio_zz500: 0.29</text>
<text x="545" y="1350" textLength="298" lengthAdjust="spacingAndGlyphs">ratio_hs300: 0.4</text>
<text x="545" y="1401" textLength="279" lengthAdjust="spacingAndGlyphs">ratio_gei: 0.13</text>
</g>
</svg>
</body>
</html>
